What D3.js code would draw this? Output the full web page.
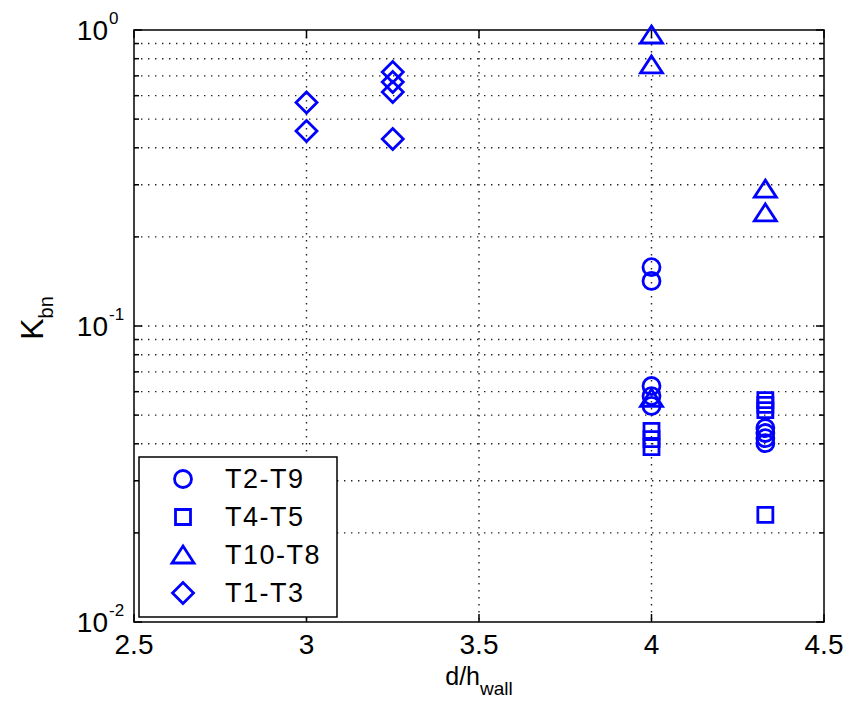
<html lang="en">
<head>
<meta charset="UTF-8">
<script src="https://d3js.org/d3.v7.min.js"></script>
<title>Kbn vs d/hwall</title>
<style>
  * { padding: 0; margin: 0; }
  body { background: #fff; }
  text { font-family: "Liberation Sans", Arial, sans-serif; fill: #000; }
</style>
</head>
<body>
<div class="chart"></div>
<script>
// series data
const seriesNames = ['T2-T9', 'T4-T5', 'T10-T8', 'T1-T3'];

const t2t9X = [4, 4, 4, 4, 4, 4.33, 4.33, 4.33, 4.33];
const t2t9Y = [0.158, 0.142, 0.0627, 0.058, 0.0537, 0.0452, 0.0435, 0.0418, 0.0402];

const t4t5X = [4, 4, 4, 4.33, 4.33, 4.33, 4.33];
const t4t5Y = [0.0442, 0.0415, 0.039, 0.0562, 0.0541, 0.052, 0.023];

const t10t8X = [4, 4, 4, 4.33, 4.33];
const t10t8Y = [0.962, 0.762, 0.057, 0.290, 0.241];

const t1t3X = [3, 3, 3.25, 3.25, 3.25, 3.25];
const t1t3Y = [0.569, 0.456, 0.721, 0.667, 0.617, 0.428];

const xTicks = [2.5, 3, 3.5, 4, 4.5];
const yMajor = [0.01, 0.1, 1];
const yExp = ['-2', '-1', '0'];

const w = 861, h = 702;
const pLeft = 134, pRight = 824, pTop = 30, pBottom = 622;
const blue = '#0000ff';

const svg = d3.select('.chart').append('svg')
    .attr('width', w)
    .attr('height', h);

const x = d3.scaleLinear().domain([2.5, 4.5]).range([pLeft, pRight]);
const y = d3.scaleLog().domain([0.01, 1]).range([pBottom, pTop]);

// minor values 2..9 per decade
const yMinor = [];
[0.01, 0.1].forEach(d => {
    for (let k = 2; k <= 9; k++) yMinor.push(k * d);
});

// grid
const grid = svg.append('g').attr('stroke', '#222').attr('stroke-width', 1.4)
    .attr('stroke-dasharray', '1.4,5.6');
grid.selectAll('.gy')
    .data(yMinor.concat([0.1]))
    .enter().append('line')
    .attr('x1', pLeft).attr('x2', pRight)
    .attr('y1', d => y(d)).attr('y2', d => y(d));
grid.selectAll('.gx')
    .data(xTicks.slice(1, -1))
    .enter().append('line')
    .attr('y1', pTop).attr('y2', pBottom)
    .attr('x1', d => x(d)).attr('x2', d => x(d));

// ticks on all four sides
const ticks = svg.append('g').attr('stroke', '#000').attr('stroke-width', 1.5);
[pLeft, pRight].forEach(x0 => {
    const dir = x0 === pLeft ? 1 : -1;
    ticks.selectAll(null).data(yMinor).enter().append('line')
        .attr('x1', x0).attr('x2', x0 + dir * 5)
        .attr('y1', d => y(d)).attr('y2', d => y(d));
    ticks.selectAll(null).data(yMajor).enter().append('line')
        .attr('x1', x0).attr('x2', x0 + dir * 8)
        .attr('y1', d => y(d)).attr('y2', d => y(d));
});
[pBottom, pTop].forEach(y0 => {
    const dir = y0 === pBottom ? -1 : 1;
    ticks.selectAll(null).data(xTicks).enter().append('line')
        .attr('y1', y0).attr('y2', y0 + dir * 8)
        .attr('x1', d => x(d)).attr('x2', d => x(d));
});

// box
svg.append('rect')
    .attr('x', pLeft).attr('y', pTop)
    .attr('width', pRight - pLeft).attr('height', pBottom - pTop)
    .attr('fill', 'none').attr('stroke', '#000').attr('stroke-width', 1.5);

// tick labels
svg.append('g').selectAll('text')
    .data(xTicks).enter().append('text')
    .attr('x', d => x(d)).attr('y', pBottom + 32)
    .attr('text-anchor', 'middle')
    .style('font-size', '28px')
    .text(d => d);

const yl = svg.append('g');
yMajor.forEach((d, i) => {
    yl.append('text')
        .attr('x', 108).attr('y', y(d) + 10)
        .attr('text-anchor', 'end')
        .style('font-size', '28px')
        .text('10');
    yl.append('text')
        .attr('x', 109).attr('y', y(d) - 6)
        .style('font-size', '17px')
        .text(yExp[i]);
});

// axis labels
const xl = svg.append('text')
    .attr('x', (pLeft + pRight) / 2).attr('y', 685)
    .attr('text-anchor', 'middle')
    .style('font-size', '25px');
xl.append('tspan').text('d/h');
xl.append('tspan').attr('dy', 10).style('font-size', '19px').text('wall');

const ylab = svg.append('text')
    .attr('transform', 'translate(43,318) rotate(-90)')
    .attr('text-anchor', 'middle')
    .style('font-size', '32px');
ylab.append('tspan').text('K');
ylab.append('tspan').attr('dy', 10).style('font-size', '20px').text('bn');

// marker shapes
function marker(type) {
    if (type === 0) return 'M0,-8.5A8.5,8.5 0 1,1 0,8.5A8.5,8.5 0 1,1 0,-8.5Z';
    if (type === 1) return 'M-7.5,-7.5H7.5V7.5H-7.5Z';
    if (type === 2) return 'M0,-9L11,8H-11Z';
    return 'M0,-10.5L10.5,0L0,10.5L-10.5,0Z';
}

const series = [
    { xs: t2t9X, ys: t2t9Y },
    { xs: t4t5X, ys: t4t5Y },
    { xs: t10t8X, ys: t10t8Y },
    { xs: t1t3X, ys: t1t3Y }
];

series.forEach((s, i) => {
    svg.append('g').selectAll('path')
        .data(s.xs.map((v, j) => [v, s.ys[j]]))
        .enter().append('path')
        .attr('d', marker(i))
        .attr('transform', d => 'translate(' + x(d[0]) + ',' + y(d[1]) + ')')
        .attr('fill', 'none')
        .attr('stroke', blue)
        .attr('stroke-width', 2.8);
});

// legend
const legend = svg.append('g');
legend.append('rect')
    .attr('x', 139).attr('y', 457)
    .attr('width', 198).attr('height', 160)
    .attr('fill', '#fff').attr('stroke', '#000').attr('stroke-width', 1.5);

seriesNames.forEach((name, i) => {
    const ry = 479 + i * 38;
    legend.append('path')
        .attr('d', marker(i))
        .attr('transform', 'translate(183,' + ry + ')')
        .attr('fill', 'none')
        .attr('stroke', blue)
        .attr('stroke-width', 2.8);
    legend.append('text')
        .attr('x', 225).attr('y', ry + 9)
        .style('font-size', '27px')
        .style('letter-spacing', '1.5px')
        .text(name);
});
</script>
</body>
</html>
